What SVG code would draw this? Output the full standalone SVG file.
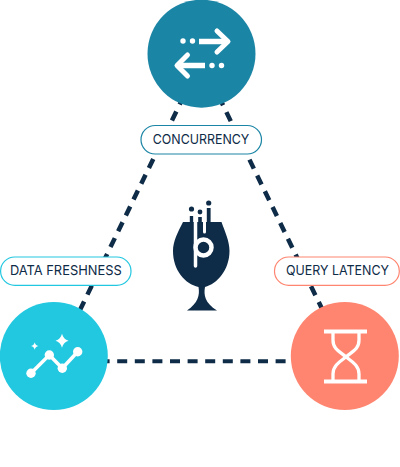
<svg xmlns="http://www.w3.org/2000/svg" width="400" height="467" viewBox="0 0 400 467">
<style>
.dash{fill:none;stroke:#0e2b47;stroke-width:4.500;stroke-dasharray:10 7.600}
.pill{fill:#fff;stroke-width:1.200}
.lbl{font-family:"Inter","Open Sans",sans-serif;font-size:13.600px;fill:#0e2b47;text-anchor:middle}
.ic{fill:none;stroke:#fff;stroke-linecap:round;stroke-linejoin:round}
.b{fill:none;stroke:#fff;stroke-linecap:butt;stroke-linejoin:round}
.w{fill:#fff}
.d{fill:#0e2b47}
</style>
<rect width="400" height="467" fill="#fff"/>
<g id="connectors">
<line class="dash" x1="184" y1="95.600" x2="79" y2="312"/>
<line class="dash" x1="218.700" y1="96.300" x2="325" y2="315"/>
<line class="dash" x1="99.600" y1="361.300" x2="292" y2="361.300" style="stroke-width:4"/>
</g>
<g id="node-concurrency">
<circle cx="201.500" cy="53.700" r="54" fill="#1b85a5"/>
<circle class="w" cx="183" cy="41" r="2.700"/><circle class="w" cx="192.500" cy="41" r="2.700"/>
<path class="b" stroke-width="5.500" d="M199 41.500H226"/>
<path class="ic" stroke-width="5" d="M217 31L228 41.500L217 52"/>
<circle class="w" cx="212" cy="65.500" r="2.700"/><circle class="w" cx="221.500" cy="65.500" r="2.700"/>
<path class="b" stroke-width="5.500" d="M178 65.500H205"/>
<path class="ic" stroke-width="5" d="M187.500 55L177 65.500L187.500 76"/>
</g>
<g id="label-concurrency">
<rect class="pill" x="141" y="125.500" width="120.500" height="28.500" rx="14.200" stroke="#1b85a5"/>
<text class="lbl" x="201" y="144.200" textLength="96.500" lengthAdjust="spacingAndGlyphs">CONCURRENCY</text>
</g>
<g id="node-logo">
<path class="d" d="M183 222H221.500C225 232 229.500 241 229.500 251C229.500 270 217 284 205 287C203.500 295 205 303 217 310.500H187C198 303 200 295 198.500 287C185 284 173 270 173 251C173 241 178 232 183 222Z"/>
<rect class="d" x="189.800" y="216" width="3.400" height="7"/>
<rect class="d" x="198.200" y="217" width="3.600" height="8"/>
<rect class="d" x="206.800" y="208" width="3.800" height="16"/>
<circle class="d" cx="191.500" cy="209" r="2.600"/>
<circle class="d" cx="200" cy="212" r="2.400"/>
<circle class="d" cx="208.700" cy="203" r="2.600"/>
<path d="M195.500 215V266" fill="none" stroke="#fff" stroke-width="3.500" stroke-linecap="round"/>
<path d="M204.500 222V232" fill="none" stroke="#fff" stroke-width="3" stroke-linecap="round"/>
<circle cx="203.500" cy="247.500" r="8" fill="#0e2b47" stroke="#fff" stroke-width="4.500"/>
</g>
<g id="label-freshness">
<rect class="pill" x="0.600" y="257" width="130.400" height="28.300" rx="14.100" stroke="#22c7e0"/>
<text class="lbl" x="65.800" y="275.400" textLength="111.700" lengthAdjust="spacingAndGlyphs">DATA FRESHNESS</text>
</g>
<g id="label-latency">
<rect class="pill" x="274.500" y="257" width="124.800" height="28.300" rx="14.100" stroke="#ff8570"/>
<text class="lbl" x="337.500" y="275.400" textLength="103" lengthAdjust="spacingAndGlyphs">QUERY LATENCY</text>
</g>
<g id="node-freshness">
<circle cx="53.800" cy="356" r="54" fill="#22c7e0"/>
<path class="ic" stroke-width="3.500" d="M31 373.300L49.300 355L62.300 368.300L77.700 351.700"/>
<circle class="w" cx="31" cy="373.300" r="4.700"/><circle class="w" cx="49.300" cy="355" r="4.700"/><circle class="w" cx="62.300" cy="368.300" r="4.700"/><circle class="w" cx="77.700" cy="351.700" r="4.700"/>
<path class="w" d="M62 333.700C63 337.500 65 339.500 68.500 340.700C65 342 63 344 62 347.700C61 344 59 342 55.500 340.700C59 339.500 61 337.500 62 333.700Z"/>
<path class="w" d="M34.700 342.300C35.300 344.500 36.200 345.400 38.400 346C36.200 346.600 35.300 347.500 34.700 349.700C34.100 347.500 33.200 346.600 31 346C33.200 345.400 34.100 344.500 34.700 342.300Z"/>
</g>
<g id="node-latency">
<circle cx="344.800" cy="356" r="54" fill="#ff8570"/>
<path class="b" stroke-width="3.800" d="M324 331.500H367M324 381.500H367"/>
<path class="b" stroke-width="3.300" d="M333 332V340C333 350 341 352 346 357C351 361 359 365 359 374V381M359 332V340C359 350 351 352 346 357C341 361 333 365 333 374V381"/>
</g>
</svg>
